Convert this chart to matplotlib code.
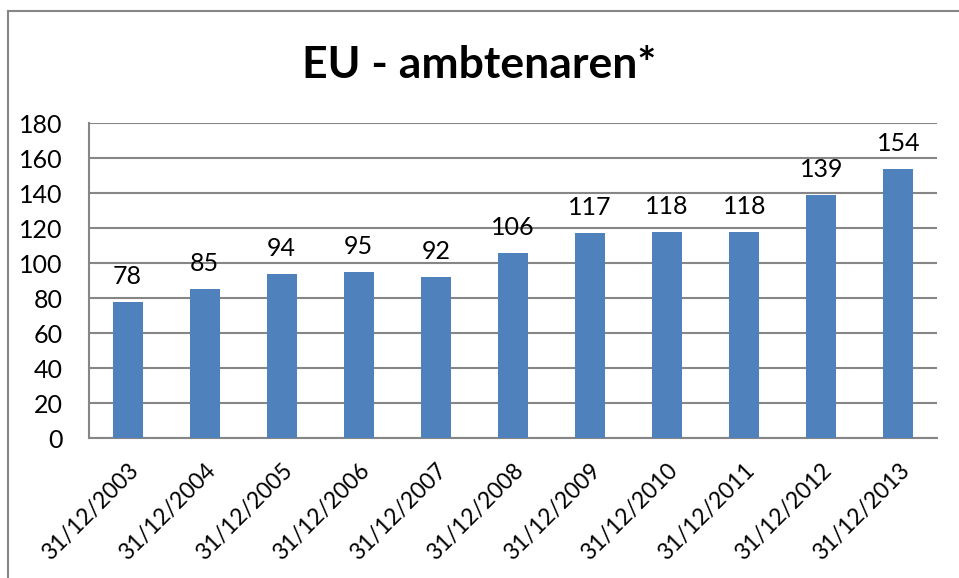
import matplotlib
matplotlib.use('Agg')
import matplotlib.pyplot as plt
from matplotlib.lines import Line2D
import numpy as np

plt.rcParams['font.family'] = ['Lato', 'DejaVu Sans']

dates = ['31/12/2003', '31/12/2004', '31/12/2005', '31/12/2006', '31/12/2007',
         '31/12/2008', '31/12/2009', '31/12/2010', '31/12/2011', '31/12/2012',
         '31/12/2013']
values = [78, 85, 94, 95, 92, 106, 117, 118, 118, 139, 154]
yticks = [0, 20, 40, 60, 80, 100, 120, 140, 160, 180]

GRAY = '#868686'
BLUE = '#4F81BD'
FS = 18

fig = plt.figure(figsize=(9.59, 5.78), dpi=100)
ax = fig.add_axes([0.0928, 0.2422, 0.977 - 0.0928, 0.787 - 0.2422])

x = np.arange(len(dates))
ax.bar(x, values, width=0.39, color=BLUE, zorder=3)
for xi, v in zip(x, values):
    ax.text(xi, v + 8, str(v), ha='center', va='bottom', fontsize=FS)

ax.set_xlim(-0.5, len(dates) - 0.5)
ax.set_ylim(0, 180)
ax.set_yticks(yticks)
ax.grid(axis='y', color=GRAY, linewidth=1.5, zorder=0)
ax.set_xticks(x)
ax.set_xticklabels(dates, rotation=45, ha='right', rotation_mode='anchor', fontsize=16.5)
ax.tick_params(axis='y', length=0, pad=19, labelsize=FS)
ax.tick_params(axis='x', length=0, pad=16)
for s in ['top', 'right']:
    ax.spines[s].set_visible(False)
for s in ['left', 'bottom']:
    ax.spines[s].set_color(GRAY)
    ax.spines[s].set_linewidth(1.5)

fig.text(0.5, 0.887, 'EU - ambtenaren*', ha='center', va='center',
         fontsize=32, fontweight='bold')

# chart border (left and top visible)
fig.add_artist(Line2D([7.5 / 959, 7.5 / 959], [0, 1 - 11 / 578],
                      color=GRAY, linewidth=1.5, transform=fig.transFigure))
fig.add_artist(Line2D([7.5 / 959, 1], [1 - 11 / 578, 1 - 11 / 578],
                      color=GRAY, linewidth=1.5, transform=fig.transFigure))

fig.savefig('out.png', dpi=100)
